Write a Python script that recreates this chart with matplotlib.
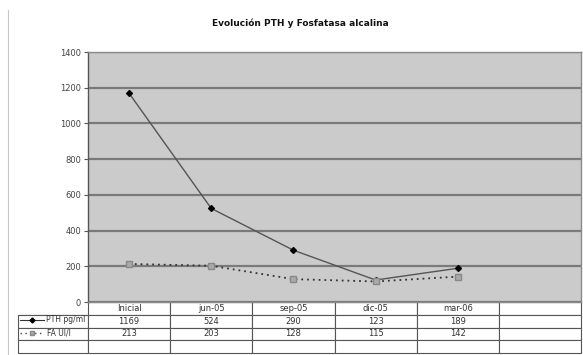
import matplotlib.pyplot as plt
from matplotlib.lines import Line2D

# data
categories = ["Inicial", "jun-05", "sep-05", "dic-05", "mar-06", ""]
pth = [1169, 524, 290, 123, 189]
fa = [213, 203, 128, 115, 142]
series_names = ["PTH pg/ml", "FA UI/l"]

W, H = 583, 355
fig = plt.figure(figsize=(W / 100, H / 100), dpi=100)
fig.patch.set_facecolor("white")

# plot area in pixels: x 88..581, y 52..302
L, R, T, B = 88, 581, 52, 302
ax = fig.add_axes([L / W, 1 - B / H, (R - L) / W, (B - T) / H])
ax.set_facecolor("#cbcbcb")

xs = range(len(pth))
ax.plot(xs, pth, color="#555555", lw=1.0, marker="D", ms=3,
        mfc="black", mec="black", zorder=3)
ax.plot(xs, fa, color="#333333", lw=1.3, ls=(0, (1, 2.2)), marker="s", ms=4,
        mfc="#aaaaaa", mec="#888888", zorder=3)

ax.set_xlim(-0.5, len(categories) - 0.5)
ax.set_ylim(0, 1400)
ax.set_yticks(range(0, 1401, 200))
ax.set_xticks([])
ax.yaxis.grid(True, color="#7a7a7a", lw=1.6)
ax.set_axisbelow(True)
ax.tick_params(axis="y", labelsize=6, colors="#555555", length=3, width=0.8,
               pad=2, labelcolor="#444444")
for s in ax.spines.values():
    s.set_color("#8a8a8a")
    s.set_linewidth(1.0)
ax.spines["left"].set_color("#555555")

# data table under the plot
rows = [[""] + categories,
        [""] + [str(v) for v in pth] + [""],
        [""] + [str(v) for v in fa] + [""],
        [""] * 7]
lab_w = 70
col_w = (R - L) / 6
widths = [lab_w] + [col_w] * 6
tot = sum(widths)
tab = ax.table(cellText=rows, colWidths=[w / tot for w in widths],
               cellLoc="center",
               bbox=[-lab_w / (R - L), -(353 - B) / (B - T), tot / (R - L),
                     (353 - B) / (B - T)])
tab.auto_set_font_size(False)
for (r, c), cell in tab.get_celld().items():
    cell.set_edgecolor("#555555")
    cell.set_linewidth(0.8)
    cell.get_text().set_fontsize(6)
    cell.get_text().set_color("#333333")
    if r == 0 and c == 0:
        cell.visible_edges = "B"

# row labels with legend keys
fx = lambda px: px / W
fy = lambda py: 1 - py / H
fig.add_artist(Line2D([fx(20), fx(44)], [fy(320), fy(320)], color="#333333", lw=0.8))
fig.add_artist(Line2D([fx(32)], [fy(320)], color="black", marker="D", ms=2.5,
                      ls="none"))
fig.text(fx(46), fy(320), series_names[0], fontsize=5.5, color="#333333",
         va="center", ha="left")
fig.add_artist(Line2D([fx(20), fx(44)], [fy(333), fy(333)], color="#444444",
                      lw=1.0, ls=(0, (1, 2.5))))
fig.add_artist(Line2D([fx(32)], [fy(333)], color="#888888", marker="s", ms=3,
                      mfc="#aaaaaa", ls="none"))
fig.text(fx(47), fy(333), series_names[1], fontsize=5.5, color="#333333",
         va="center", ha="left")

# faint chart-area frame on the left
fig.add_artist(Line2D([fx(8), fx(8)], [fy(10), fy(355)], color="#c8c8c8", lw=0.8))

fig.text(300 / W, 1 - 23 / H, "Evolución PTH y Fosfatasa alcalina",
         fontsize=6.5, fontweight="bold", ha="center", va="center", color="#111111")

fig.savefig("out.png", dpi=100)
